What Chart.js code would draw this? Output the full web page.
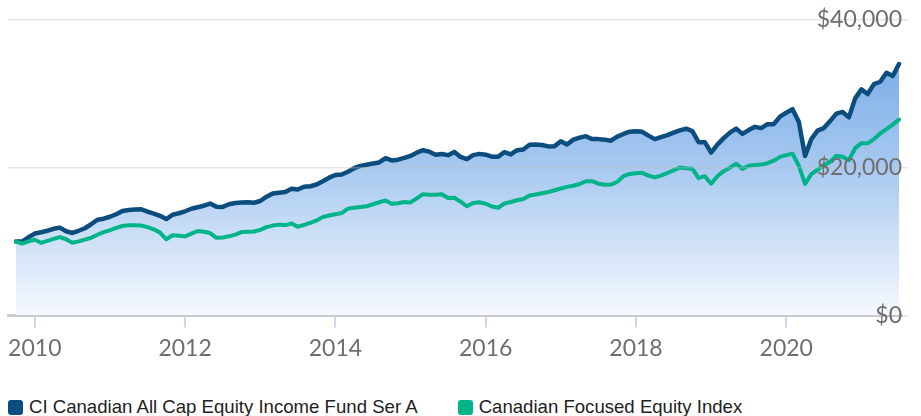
<!DOCTYPE html>
<html>
<head>
<meta charset="utf-8">
<title>Growth of $10,000</title>
<script src="https://cdn.jsdelivr.net/npm/chart.js@4.4.0/dist/chart.umd.min.js"></script>
<style>
  html, body { margin: 0; padding: 0; background: #fff; }
  #wrap { position: relative; width: 921px; height: 416px; overflow: hidden; }
  #chartBox { position: absolute; left: 0; top: 0; width: 921px; height: 382px; }
  #legend {
    position: absolute; left: 8px; top: 396px;
    display: flex; align-items: center;
    font-family: "Liberation Sans", Arial, sans-serif; font-size: 18.6px; color: #222;
  }
  .item { display: flex; align-items: center; margin-right: 40px; white-space: nowrap; }
  .swatch { width: 15px; height: 15px; border-radius: 3px; margin-right: 6px; }
</style>
</head>
<body>
<div id="wrap">
  <div id="chartBox"><canvas id="growthChart"></canvas></div>
  <div id="legend"></div>
</div>
<script>
// month-end values of a $10,000 investment, Sept 2009 through June 2021
const startYear = 2009;
const startMonth = 9;

const seriesNames = ["CI Canadian All Cap Equity Income Fund Ser A", "Canadian Focused Equity Index"];
const seriesColors = ["#0b4d7f", "#00b48a"];

const fundValues = [
  10000, 10030, 10580, 11080, 11260, 11460, 11730, 11890, 11390, 11160,
  11460, 11800, 12340, 12950, 13090, 13360, 13700, 14140, 14270, 14350,
  14370, 14040, 13790, 13490, 13050, 13630, 13830, 14100, 14440, 14650,
  14850, 15150, 14710, 14690, 15050, 15230, 15280, 15320, 15260, 15490,
  16070, 16500, 16610, 16720, 17150, 17050, 17430, 17490, 17720, 18170,
  18650, 19010, 19080, 19460, 19930, 20250, 20410, 20570, 20710, 21290,
  20980, 21090, 21320, 21590, 22040, 22370, 22170, 21760, 21860, 21700,
  22140, 21450, 21150, 21700, 21870, 21760, 21490, 21490, 22100, 21790,
  22370, 22470, 23110, 23150, 23080, 22880, 22920, 23590, 23150, 23800,
  24070, 24270, 23870, 23870, 23800, 23660, 24210, 24570, 24880, 24950,
  24860, 24340, 23870, 24140, 24410, 24750, 25050, 25280, 24950, 23460,
  23460, 22040, 23120, 24000, 24750, 25290, 24580, 25090, 25530, 25360,
  25900, 25900, 26920, 27450, 27930, 26210, 21600, 23870, 25020, 25360,
  26310, 27320, 27550, 26820, 29390, 30610, 29970, 31320, 31640, 32860,
  32410, 34040
];

const indexValues = [
  10000, 9720, 10030, 10240, 9830, 10100, 10370, 10600, 10310, 9830,
  10030, 10270, 10510, 10920, 11280, 11530, 11850, 12100, 12200, 12200,
  12180, 11960, 11660, 11210, 10310, 10850, 10780, 10710, 11080, 11430,
  11320, 11150, 10510, 10540, 10710, 10940, 11280, 11320, 11360, 11590,
  11960, 12160, 12290, 12230, 12450, 12000, 12270, 12540, 12860, 13320,
  13520, 13700, 13860, 14460, 14580, 14670, 14780, 15050, 15320, 15570,
  15120, 15190, 15350, 15300, 15840, 16410, 16330, 16330, 16410, 15910,
  15930, 15390, 14780, 15230, 15320, 15120, 14740, 14580, 15150, 15350,
  15590, 15760, 16230, 16380, 16540, 16710, 16950, 17190, 17400, 17560,
  17790, 18170, 18170, 17830, 17700, 17720, 18080, 18850, 19150, 19260,
  19300, 18920, 18690, 18920, 19280, 19640, 20020, 19930, 19870, 18580,
  18850, 17830, 18850, 19530, 20000, 20540, 19840, 20270, 20370, 20420,
  20610, 20950, 21470, 21700, 21900, 20270, 17800, 19120, 19730, 20340,
  20790, 21630, 21490, 21020, 22650, 23320, 23300, 23870, 24640, 25220,
  25830, 26510
];

const yearTicks = [2010, 2012, 2014, 2016, 2018, 2020];
const valueTicks = [0, 20000, 40000];

// month index -> fractional year (month-end)
const toYear = (i) => startYear + (startMonth + i) / 12;
const asPoints = (values) => values.map((v, i) => ({ x: toYear(i), y: v }));

// build the legend
const legend = document.getElementById("legend");
seriesNames.forEach((name, k) => {
  const item = document.createElement("div");
  item.className = "item";
  item.innerHTML = '<span class="swatch" style="background:' + seriesColors[k] + '"></span><span>' + name + "</span>";
  legend.appendChild(item);
});

const axisFont = { family: "Lato, 'Open Sans', sans-serif", size: 23 };

function areaGradient(context) {
  const chart = context.chart;
  const area = chart.chartArea;
  if (!area) return "rgba(130, 180, 235, 0.6)";
  const g = chart.ctx.createLinearGradient(0, area.top, 0, area.bottom);
  g.addColorStop(0, "#6aa3e4");
  g.addColorStop(0.5, "#a8c9f0");
  g.addColorStop(1, "#f6f9fe");
  return g;
}

const ctx = document.getElementById("growthChart");

new Chart(ctx, {
  type: "line",
  data: {
    datasets: [
      {
        label: seriesNames[1],
        data: asPoints(indexValues),
        borderColor: seriesColors[1],
        borderWidth: 4,
        fill: false,
        order: 1,
      },
      {
        label: seriesNames[0],
        data: asPoints(fundValues),
        borderColor: seriesColors[0],
        borderWidth: 4.5,
        backgroundColor: areaGradient,
        fill: "origin",
        order: 2,
      },
    ],
  },
  options: {
    responsive: true,
    maintainAspectRatio: false,
    animation: false,
    events: [],
    layout: { padding: { left: 8, right: 13, top: 20, bottom: 13 } },
    elements: {
      point: { radius: 0 },
      line: { tension: 0, borderJoinStyle: "round", borderCapStyle: "round" },
    },
    plugins: {
      legend: { display: false },
      tooltip: { enabled: false },
    },
    scales: {
      x: {
        type: "linear",
        min: 2009.6435,
        max: 2021.54,
        afterBuildTicks: (scale) => {
          scale.ticks = yearTicks.map((y) => ({ value: y }));
        },
        ticks: {
          color: "#6e6e6e",
          font: axisFont,
          padding: 7,
          maxRotation: 0,
          callback: (v) => String(v),
        },
        grid: {
          drawOnChartArea: false,
          drawTicks: true,
          tickLength: 12,
          color: "#c8d7ec",
          lineWidth: 2,
        },
        border: { color: "#c9cdd4", width: 3 },
      },
      y: {
        position: "right",
        min: 0,
        max: 40000,
        afterBuildTicks: (scale) => {
          scale.ticks = valueTicks.map((v) => ({ value: v }));
        },
        ticks: {
          z: 2,
          mirror: true,
          padding: 0,
          color: "#6e6e6e",
          font: axisFont,
          callback: (v) => "$" + Number(v).toLocaleString("en-US"),
        },
        grid: {
          z: 1,
          color: "rgba(190, 190, 190, 0.4)",
          lineWidth: 1.5,
          drawTicks: true,
          tickLength: 6,
        },
        border: { display: false },
      },
    },
  },
});
</script>
</body>
</html>
